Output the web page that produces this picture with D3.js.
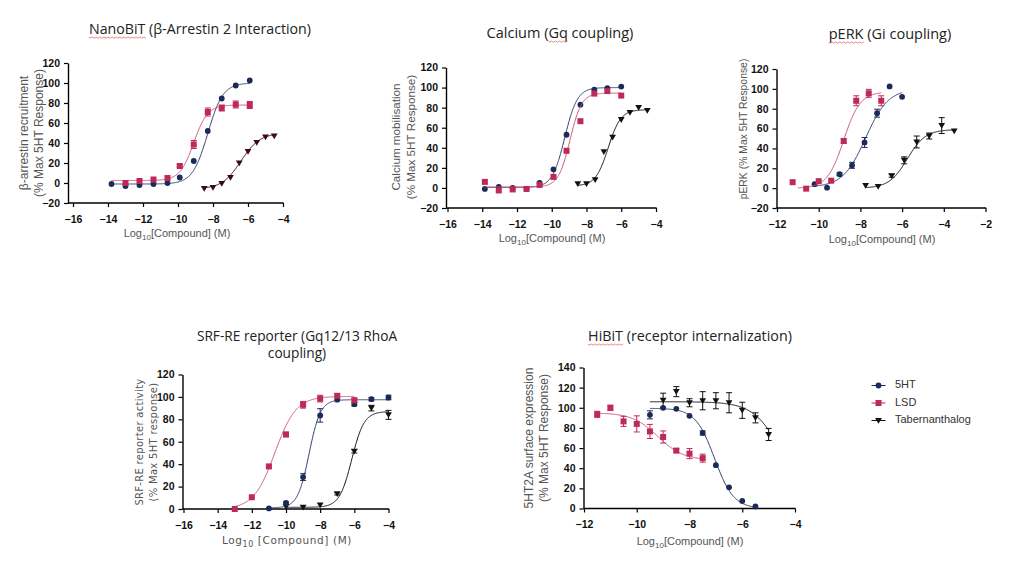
<!DOCTYPE html>
<html><head><meta charset="utf-8">
<script src="https://cdn.jsdelivr.net/npm/d3@7/dist/d3.min.js"></script>
<style>
html,body{margin:0;padding:0;background:#fff;}
svg{display:block;}
</style></head>
<body>
<svg id="c" width="1024" height="573"></svg>
<script>
// ---------------- DATA ----------------
const seriesNames = ["5HT", "LSD", "Tabernanthalog"];

// NanoBiT (β-Arrestin 2)
const nb_5ht_x = [-13.8,-13.0,-12.2,-11.4,-10.6,-9.9,-9.1,-8.3,-7.5,-6.7,-5.9];
const nb_5ht_y = [-1,-3,-2,-1,0,5.5,22,52,84.5,97.5,102.5];
const nb_5ht_e = [0,0,0,0,0,0,0,0,0,0,0];
const nb_lsd_x = [-13.0,-12.2,-11.4,-10.6,-9.9,-9.1,-8.3,-7.5,-6.7,-5.9];
const nb_lsd_y = [0,2,3.5,5,17,38.5,71,75,78.5,78];
const nb_lsd_e = [0,0,0,0,1.5,4,4,3,3.5,3.5];
const nb_tab_x = [-8.5,-8.0,-7.5,-7.0,-6.5,-6.0,-5.5,-5.0,-4.5];
const nb_tab_y = [-5.5,-4.5,-0.5,5.5,20,31.5,40.5,46,47];
const nb_tab_e = [0,0,0,0,0,0,0,0,0];
// fit: [bottom, top, logEC50, hill, xFrom, xTo]
const nb_5ht_fit = [-1, 100, -8.3, 1.0, -13.8, -5.9];
const nb_lsd_fit = [2.5, 78, -9.1, 1.1, -13.8, -5.9];
const nb_tab_fit = [-6, 50, -6.4, 0.8, -8.5, -4.5];

// Calcium (Gq)
const ca_5ht_x = [-13.85,-13.05,-12.25,-11.45,-10.7,-9.9,-9.15,-8.35,-7.55,-6.8,-6.0];
const ca_5ht_y = [-1,1,0,-1,5,18.5,53,83,98,99.5,101];
const ca_5ht_e = [0,0,0,0,0,0,0,0,0,0,0];
const ca_lsd_x = [-13.85,-13.05,-12.25,-11.45,-10.7,-9.9,-9.15,-8.35,-7.55,-6.8,-6.0];
const ca_lsd_y = [6,-2.5,-1.5,-1,3,11,37,66.5,94,96.5,92];
const ca_lsd_e = [0,0,0,0,0,0,0,0,0,0,0];
const ca_tab_x = [-8.5,-8.0,-7.5,-7.0,-6.5,-6.0,-5.5,-5.0,-4.5];
const ca_tab_y = [4,4,8,36,50.5,68,75,80,77];
const ca_tab_e = [0,0,0,0,0,0,0,0,0];
const ca_5ht_fit = [0.5, 100, -9.25, 1.2, -13.85, -6.0];
const ca_lsd_fit = [1, 94.5, -8.95, 1.3, -13.85, -6.0];
const ca_tab_fit = [2, 78, -6.75, 1.2, -8.5, -4.5];

// pERK (Gi)
const pe_5ht_x = [-10.2,-9.6,-9.0,-8.4,-7.8,-7.2,-6.6,-6.0];
const pe_5ht_y = [4,0.5,14,23,46,75.5,102.5,92];
const pe_5ht_e = [0,0,1.5,3,5,4,0,0];
const pe_lsd_x = [-11.25,-10.6,-10.0,-9.4,-8.8,-8.2,-7.6,-7.0];
const pe_lsd_y = [6,-0.5,7,7.5,47.5,88,95.5,88];
const pe_lsd_e = [0,0,0,0,2,5,4,5];
const pe_tab_x = [-7.75,-7.15,-6.5,-5.9,-5.3,-4.7,-4.1,-3.5];
const pe_tab_y = [2.5,1.5,12.5,28,46.5,52.5,63,57.5];
const pe_tab_e = [0,0,1.5,3.5,6,3,8,0];
const pe_5ht_fit = [1, 100, -7.75, 0.8, -10.2, -6.0];
const pe_lsd_fit = [0, 97, -8.8, 1.1, -11.0, -7.0];
const pe_tab_fit = [0, 59, -5.75, 1.0, -7.75, -3.5];

// SRF-RE reporter
const sr_5ht_x = [-11,-10,-9,-8,-7,-6,-5,-4];
const sr_5ht_y = [0.5,5.5,28.5,83.5,97.5,93.5,98,99.5];
const sr_5ht_e = [0,1,3,6,0,1.5,1.5,2];
const sr_lsd_x = [-13,-12,-11,-10,-9,-8,-7,-6];
const sr_lsd_y = [0,10.5,38,66.5,93,98.5,101,97];
const sr_lsd_e = [0,0,0,2,3,3,1.5,2];
const sr_tab_x = [-10,-9,-8,-7,-6,-5,-4];
const sr_tab_y = [2,1.5,3.5,13.5,51.5,90,84];
const sr_tab_e = [0,0,0,1,1.5,2.5,4];
const sr_5ht_fit = [1, 97.5, -8.65, 1.3, -11, -4];
const sr_lsd_fit = [0, 100.5, -10.65, 0.7, -13, -6];
const sr_tab_fit = [1.5, 87, -6.15, 1.2, -10, -4];

// HiBiT (internalization) – descending fits use negative hill
const hb_5ht_x = [-9.5,-9,-8.5,-8,-7.5,-7,-6.5,-6,-5.5];
const hb_5ht_y = [93,100,99,92,75,43,21,7.5,2];
const hb_5ht_e = [4,0,0,0,2,0,0,0,0];
const hb_lsd_x = [-11.5,-11,-10.5,-10,-9.5,-9,-8.5,-8,-7.5];
const hb_lsd_y = [93.5,100,86.5,84,76.5,71,57.5,54.5,50];
const hb_lsd_e = [3,2.5,5,8,7,6,2,5,4];
const hb_tab_x = [-9,-8.5,-8,-7.5,-7,-6.5,-6,-5.5,-5];
const hb_tab_y = [107.5,116,105,107,107,105,97.5,90,73.5];
const hb_tab_e = [7,5,4,9,8,10,8,5,6];
const hb_5ht_fit = [0, 99.5, -7.05, -1.2, -9.5, -5.5];
const hb_lsd_fit = [48, 95, -9.2, -0.9, -11.5, -7.5];
const hb_tab_fit = [0, 106, -4.45, -0.8, -9.5, -5.0];

// Axis ticks
const xt_16_4 = [-16,-14,-12,-10,-8,-6,-4];
const xt_12_2 = [-12,-10,-8,-6,-4,-2];
const xt_12_4 = [-12,-10,-8,-6,-4];
const yt_m20_120 = [-20,0,20,40,60,80,100,120];
const yt_0_120 = [0,20,40,60,80,100,120];
const yt_0_140 = [0,20,40,60,80,100,120,140];

// ---------------- STYLE / LAYOUT ----------------
const C5HT = "#1c2a59", CLSD = "#be2a58", CTAB = "#111111", CTAB1 = "#3a0b12";
const C5HTline = "#2e3b66", CLSDline = "#c9567a";

const panels = [
  { title:["NanoBiT (β-Arrestin 2 Interaction)"], squig:"NanoBiT", tx:200, ty:[34], tfs:14.2,
    ylab:["β-arrestin recruitment","(% Max 5HT Response)"], ylx:[25,40], yly:133, yfs:12,
    xlab:"Log10[Compound] (M)", xlx:177, xly:237,
    ax:68, xd:[-16,-4], xr:[73,283], yd:[-20,120], yr:[203,63], xt:xt_16_4, yt:yt_m20_120,
    tabColor:CTAB1,
    s:[[nb_5ht_x,nb_5ht_y,nb_5ht_e,nb_5ht_fit],[nb_lsd_x,nb_lsd_y,nb_lsd_e,nb_lsd_fit],[nb_tab_x,nb_tab_y,nb_tab_e,nb_tab_fit]] },
  { title:["Calcium (Gq coupling)"], squig:"Gq", tx:560, ty:[38], tfs:14.5,
    ylab:["Calcium mobilisation","(% Max 5HT Response)"], ylx:[397,412], yly:137, yfs:11.7,
    xlab:"Log10[Compound] (M)", xlx:552, xly:242,
    ax:446, xd:[-16,-4], xr:[447.5,656], yd:[-20,120], yr:[208,67.5], xt:xt_16_4, yt:yt_m20_120,
    tabColor:CTAB,
    s:[[ca_5ht_x,ca_5ht_y,ca_5ht_e,ca_5ht_fit],[ca_lsd_x,ca_lsd_y,ca_lsd_e,ca_lsd_fit],[ca_tab_x,ca_tab_y,ca_tab_e,ca_tab_fit]] },
  { title:["pERK (Gi coupling)"], squig:"pERK", tx:890, ty:[39], tfs:14.5,
    ylab:["pERK (% Max 5HT Response)"], ylx:[744], yly:129, yfs:10.4,
    xlab:"Log10[Compound] (M)", xlx:882, xly:243,
    ax:776.5, xd:[-12,-2], xr:[777,985.5], yd:[-20,120], yr:[208,69], xt:xt_12_2, yt:yt_m20_120,
    tabColor:CTAB,
    s:[[pe_5ht_x,pe_5ht_y,pe_5ht_e,pe_5ht_fit],[pe_lsd_x,pe_lsd_y,pe_lsd_e,pe_lsd_fit],[pe_tab_x,pe_tab_y,pe_tab_e,pe_tab_fit]] },
  { title:["SRF-RE reporter (Gq12/13 RhoA","coupling)"], squig:null, tx:297, ty:[341,358], tfs:13.7,
    ylab:["SRF-RE reporter activity","(% Max 5HT response)"], ylx:[140,153.5], yly:442, yfs:10, alt:true,
    xlab:"Log10 [Compound] (M)", xlx:287, xly:544,
    ax:182.5, xd:[-16,-4], xr:[183.5,388.5], yd:[0,120], yr:[509,374.5], xt:xt_16_4, yt:yt_0_120,
    tabColor:CTAB,
    s:[[sr_5ht_x,sr_5ht_y,sr_5ht_e,sr_5ht_fit],[sr_lsd_x,sr_lsd_y,sr_lsd_e,sr_lsd_fit],[sr_tab_x,sr_tab_y,sr_tab_e,sr_tab_fit]] },
  { title:["HiBiT (receptor internalization)"], squig:"HiBiT", tx:690, ty:[341], tfs:14.3,
    ylab:["5HT2A surface expression","(% Max 5HT Response)"], ylx:[530,545], yly:438, yfs:12,
    xlab:"Log10[Compound] (M)", xlx:690, xly:545,
    ax:583.5, xd:[-12,-4], xr:[584,795], yd:[0,140], yr:[508.5,367.5], xt:xt_12_4, yt:yt_0_140,
    tabColor:CTAB,
    s:[[hb_5ht_x,hb_5ht_y,hb_5ht_e,hb_5ht_fit],[hb_lsd_x,hb_lsd_y,hb_lsd_e,hb_lsd_fit],[hb_tab_x,hb_tab_y,hb_tab_e,hb_tab_fit]] }
];

const svg = d3.select("#c");
const TITLE_FONT = "'Open Sans', 'Noto Sans', sans-serif";
const AX_FONT = "'Liberation Sans', Arial, sans-serif";

function fitY(f, x){
  const [b,t,ec,h] = f;
  return b + (t-b)/(1+Math.pow(10,(ec-x)*h));
}

function marker(g, kind, color, x, y){
  if(kind===0) g.append("circle").attr("cx",x).attr("cy",y).attr("r",2.9).attr("fill",color);
  else if(kind===1) g.append("rect").attr("x",x-3).attr("y",y-3).attr("width",6).attr("height",6).attr("fill",color);
  else g.append("path").attr("d",`M${x-3.4},${y-2.6}L${x+3.4},${y-2.6}L${x},${y+3.2}Z`).attr("fill",color);
}

function xLabel(g, txt, x, y, alt){
  const t = g.append("text").attr("x",x).attr("y",y).attr("text-anchor","middle")
    .attr("font-family", alt ? "'DejaVu Sans', sans-serif" : AX_FONT)
    .attr("font-size", alt ? 10.5 : 11).attr("fill","#555")
    .attr("letter-spacing", alt ? 0.6 : 0);
  const parts = txt.split("10");
  t.append("tspan").text(parts[0]);
  t.append("tspan").attr("font-size", 8).attr("dy",3).text("10");
  t.append("tspan").attr("dy",-3).text(parts[1]);
}

panels.forEach(p => {
  const g = svg.append("g");
  const x = d3.scaleLinear().domain(p.xd).range(p.xr);
  const y = d3.scaleLinear().domain(p.yd).range(p.yr);

  // title
  p.title.forEach((line,i) => {
    const t = g.append("text").attr("x",p.tx).attr("y",p.ty[i]).attr("text-anchor","middle")
      .attr("font-family",TITLE_FONT).attr("font-size",p.tfs).attr("fill","#222").text(line);
    if(p.squig && i===0){
      const idx = line.indexOf(p.squig);
      const node = t.node();
      const sx = node.getStartPositionOfChar(idx).x;
      const w = node.getSubStringLength(idx, p.squig.length);
      const yy = p.ty[i] + 3;
      let d = `M${sx},${yy}`;
      for(let k=0; sx+k*2 < sx+w; k++) d += `L${sx+k*2+1},${yy+(k%2?0:1.2)}`;
      g.append("path").attr("d",d).attr("fill","none").attr("stroke","#e05a5a").attr("stroke-width",0.7);
    }
  });

  // y axis label
  p.ylab.forEach((line,i) => {
    g.append("text").attr("transform",`translate(${p.ylx[i]},${p.yly}) rotate(-90)`)
      .attr("text-anchor","middle").attr("dominant-baseline","middle")
      .attr("font-family", p.alt ? "'DejaVu Sans', sans-serif" : AX_FONT)
      .attr("font-size", p.yfs).attr("letter-spacing", p.alt?0.3:0)
      .attr("fill","#555").text(line);
  });

  // axes
  const xAxis = d3.axisBottom(x).tickValues(p.xt).tickSize(4).tickSizeOuter(0).tickFormat(d3.format("d"));
  const yAxis = d3.axisLeft(y).tickValues(p.yt).tickSize(4).tickSizeOuter(0).tickFormat(d3.format("d"));
  const gx = g.append("g").attr("transform",`translate(0,${p.yr[0]})`).call(xAxis);
  gx.select(".domain").attr("d",`M${p.ax},0H${p.xr[1]+0.6}`);
  const gy = g.append("g").attr("transform",`translate(${p.ax},0)`).call(yAxis);
  [gx,gy].forEach(a=>{
    a.select(".domain").attr("stroke","#000").attr("stroke-width",1.4);
    a.selectAll(".tick line").attr("stroke","#000").attr("stroke-width",1.2);
    a.selectAll(".tick text").attr("font-family",AX_FONT).attr("font-weight","bold")
      .attr("font-size",10.5).attr("fill","#111");
  });
  gx.selectAll(".tick text").attr("dy","1.2em");
  gy.selectAll(".tick text").attr("dx","-1px");

  xLabel(g, p.xlab, p.xlx, p.xly, p.alt);

  // series: draw Tab first, then 5HT, then LSD on top
  const cols = [C5HT, CLSD, p.tabColor];
  const lcols = [C5HTline, CLSDline, p.tabColor];
  [2,0,1].forEach(si => {
    const [xs,ys,es,f] = p.s[si];
    const pts = d3.range(f[4], f[5]+0.0001, 0.02).map(v => [v, fitY(f,v)]);
    const line = d3.line().x(d=>x(d[0])).y(d=>y(d[1])).curve(d3.curveLinear);
    g.append("path").attr("d",line(pts)).attr("fill","none").attr("stroke",lcols[si]).attr("stroke-width",1);
    xs.forEach((xv,i)=>{
      const e = es[i];
      if(e>0){
        const cx = x(xv), y1 = y(ys[i]-e), y2 = y(ys[i]+e);
        g.append("path").attr("d",`M${cx},${y1}V${y2}M${cx-3},${y1}H${cx+3}M${cx-3},${y2}H${cx+3}`)
          .attr("stroke",cols[si]).attr("stroke-width",1).attr("fill","none");
      }
      marker(g, si, cols[si], x(xv), y(ys[i]));
    });
  });
});

// legend
const lg = svg.append("g");
const legY = d3.scalePoint().domain(seriesNames).range([385.5, 420.5]);
const legCols = [C5HT, CLSD, CTAB];
seriesNames.forEach((n,i)=>{
  const yy = legY(n);
  lg.append("line").attr("x1",871.5).attr("x2",885.5).attr("y1",yy).attr("y2",yy).attr("stroke",legCols[i]).attr("stroke-width",1);
  marker(lg, i, legCols[i], 878.5, yy);
  lg.append("text").attr("x",895).attr("y",yy).attr("dominant-baseline","middle")
    .attr("font-family",AX_FONT).attr("font-size",11).attr("fill","#333").text(n);
});
</script>
</body></html>
